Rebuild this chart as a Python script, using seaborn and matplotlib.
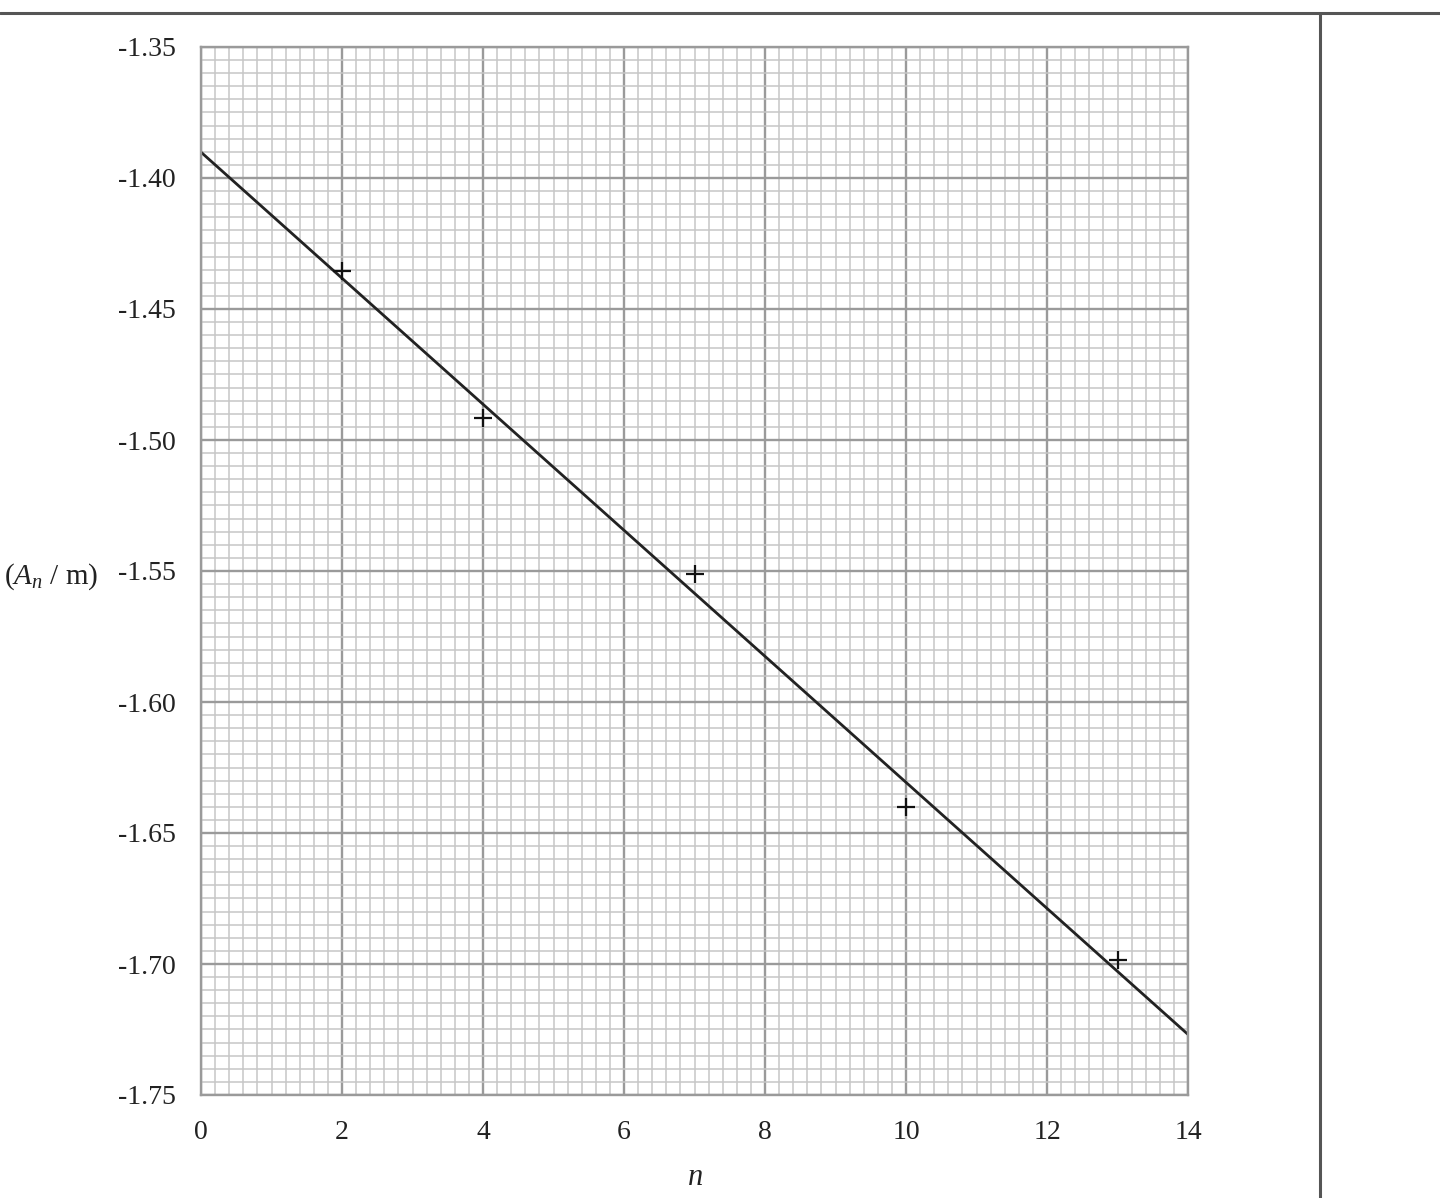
import numpy as np
import pandas as pd
import seaborn as sns
import matplotlib.pyplot as plt
from matplotlib.ticker import MultipleLocator
from matplotlib.lines import Line2D

# values
n_vals = [2, 4, 7, 10, 13]
ln_A = [-1.4355, -1.4916, -1.551, -1.640, -1.6985]
x_ticks = [0, 2, 4, 6, 8, 10, 12, 14]
y_ticks = [-1.35, -1.40, -1.45, -1.50, -1.55, -1.60, -1.65, -1.70, -1.75]

df = pd.DataFrame({"n": n_vals, "lnA": ln_A})

sns.set_theme(style="white")
plt.rcParams['font.family'] = ['Liberation Serif', 'DejaVu Serif']
plt.rcParams['mathtext.fontset'] = 'custom'
plt.rcParams['mathtext.rm'] = 'Liberation Serif'
plt.rcParams['mathtext.it'] = 'Liberation Serif:italic'

fig = plt.figure(figsize=(14.4, 11.98), dpi=100)
ax = fig.add_axes([201 / 1440, 1 - 1095 / 1198, (1188 - 201) / 1440, (1095 - 47) / 1198])

ax.set_xlim(0, 14)
ax.set_ylim(-1.75, -1.35)
ax.set_xticks(x_ticks)
ax.set_yticks(y_ticks)
ax.set_yticklabels([f"{v:.2f}" for v in y_ticks])
ax.xaxis.set_minor_locator(MultipleLocator(0.2))
ax.yaxis.set_minor_locator(MultipleLocator(0.005))

# graph paper grid
ax.grid(which='minor', color='#c6c6c6', lw=1.1)
ax.grid(which='major', color='#9a9a9a', lw=1.7)
ax.set_axisbelow(True)
for s in ax.spines.values():
    s.set_color('#9a9a9a')
    s.set_linewidth(1.7)

# best-fit line across the whole axis
sns.regplot(data=df, x="n", y="lnA", ax=ax, scatter=False, ci=None, truncate=False,
            line_kws=dict(color='#222222', lw=2.0))
sns.scatterplot(data=df, x="n", y="lnA", ax=ax, marker='+', color='#111111',
                s=170, linewidth=1.6, zorder=5)

ax.tick_params(axis='y', which='major', length=6, color='#9a9a9a', width=1.7,
               pad=12, labelsize=20, labelcolor='#222222')
ax.tick_params(axis='x', which='major', length=0, pad=18, labelsize=20, labelcolor='#222222')
ax.tick_params(which='minor', length=0)

ax.set_xlabel("$n$", fontsize=22, labelpad=13, color='#222222')
ax.set_ylabel("")
fig.text(98 / 1440, 1 - 577 / 1198, "($A_n$ / m)", fontsize=21, ha='right', va='center',
         color='#222222')

# page frame lines
fig.add_artist(Line2D([0, 1], [1 - 13 / 1198, 1 - 13 / 1198], color='#555555', lw=2.2))
fig.add_artist(Line2D([1320 / 1440, 1320 / 1440], [0, 1 - 13 / 1198], color='#555555', lw=2.2))

fig.savefig("out.png", dpi=100)
